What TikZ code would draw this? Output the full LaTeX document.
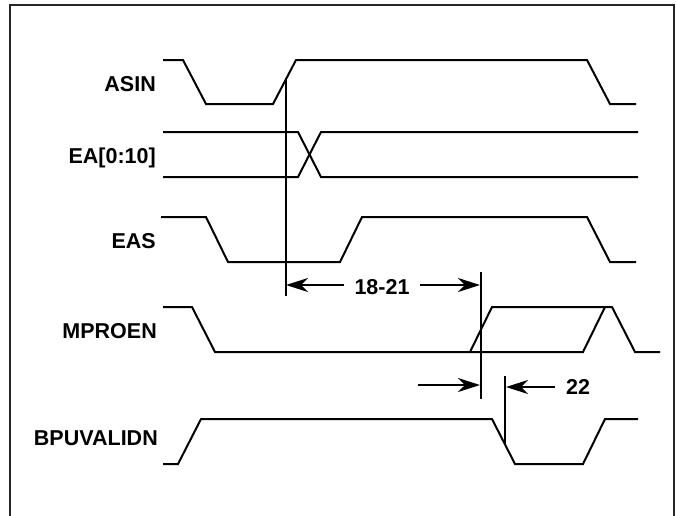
\documentclass[tikz,border=0pt]{standalone}
\usepackage{fontspec}
\setmainfont{Liberation Sans}
\usetikzlibrary{arrows.meta}
\begin{document}
\begin{tikzpicture}[x=1pt,y=-1pt,
  sig/.style={line width=2pt,line join=miter},
  tmark/.style={line width=2pt},
  frame/.style={line width=1.5pt,draw=black!85},
  arr/.style={line width=2pt,-{Stealth[length=22pt,width=14pt,inset=7pt]}},
  lbl/.style={font=\fontsize{21.5}{24}\selectfont\bfseries,anchor=base east,inner sep=0pt},
  tlbl/.style={font=\fontsize{21.5}{24}\selectfont\bfseries,inner ysep=0pt,inner xsep=10pt}]
\useasboundingbox (0,0) rectangle (676,515);
% frame
\draw[frame] (10,516) -- (10,5) -- (674,5) -- (674,516);
% labels
\node[lbl] (asin) at (156,91) {ASIN};
\node[lbl] (ea) at (156,163) {EA[0:10]};
\node[lbl] (eas) at (156,248) {EAS};
\node[lbl] (mproen) at (157,338) {MPROEN};
\node[lbl] (bpu) at (158,445) {BPUVALIDN};
% signals
\draw[sig] (163,60)--(183,60)--(206,104)--(273,104)--(296,60)--(587,60)--(610,104)--(636,104);
\draw[sig] (163,132)--(298,132)--(321,177)--(638,177);
\draw[sig] (163,177)--(298,177)--(321,132)--(638,132);
\draw[sig] (161,217)--(206,217)--(228,262)--(340,262)--(362,217)--(587,217)--(610,262)--(636,262);
\draw[sig] (163,307)--(192,307)--(215,352)--(583,352)--(605,307);
\draw[sig] (470,352)--(492,307)--(612,307)--(635,352)--(660,352);
\draw[sig] (163,464)--(178,464)--(201,419)--(492,419)--(515,464)--(583,464)--(605,419)--(638,419);
% timing markers
\coordinate (v1t) at (286,79);
\coordinate (v1b) at (286,296);
\coordinate (v2t) at (481,272);
\coordinate (v2b) at (481,399);
\coordinate (v3t) at (505,376);
\coordinate (v3b) at (505,444);
\draw[tmark] (v1t) -- (v1b);
\draw[tmark] (v2t) -- (v2b);
\draw[tmark] (v3t) -- (v3b);
% 18-21
\node[tlbl] (t1821) at (382,287) {18-21};
\coordinate (a1l) at (286,285);
\coordinate (a1r) at (480,285);
\draw[arr] (t1821.west |- a1l) -- (a1l);
\draw[arr] (t1821.east |- a1r) -- (a1r);
% 22
\node[tlbl,inner xsep=11pt] (t22) at (578,387) {22};
\coordinate (a2s) at (418,385);
\coordinate (a2e) at (480,385);
\coordinate (a3e) at (506,387);
\draw[arr] (a2s) -- (a2e);
\draw[arr] (t22.west |- a3e) -- (a3e);
\end{tikzpicture}
\end{document}
